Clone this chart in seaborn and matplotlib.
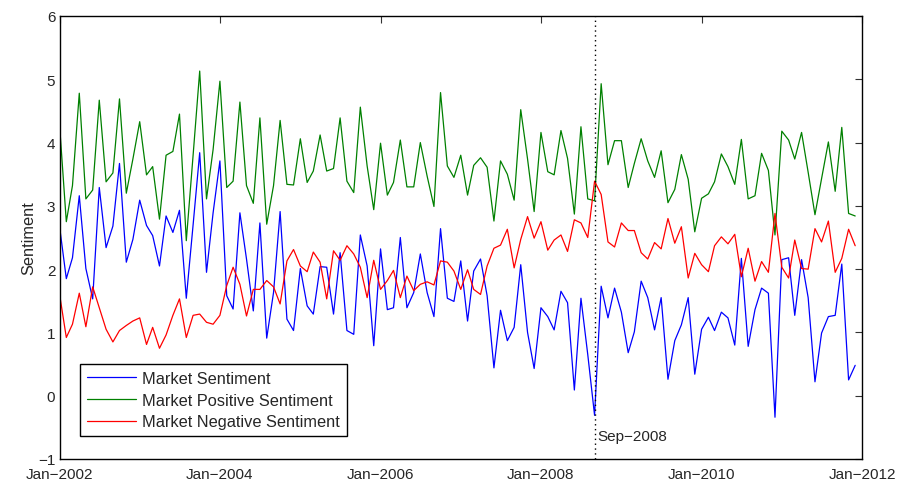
import numpy as np
import pandas as pd
import matplotlib
matplotlib.use("Agg")
import matplotlib.pyplot as plt
import seaborn as sns

# ---- data (monthly, Jan-2002 .. Dec-2011) ----
start_month = "2002-01-01"
n_months = 120

market_sentiment = [
    2.68, 1.85, 2.18, 3.16, 2.01, 1.53, 3.29, 2.34, 2.68, 3.67,
    2.11, 2.47, 3.09, 2.69, 2.53, 2.05, 2.84, 2.58, 2.93, 1.54,
    2.70, 3.84, 1.95, 2.89, 3.71, 1.58, 1.37, 2.89, 2.16, 1.34,
    2.73, 0.91, 1.63, 2.91, 1.21, 1.03, 2.01, 1.42, 1.29, 2.04,
    2.03, 1.29, 2.26, 1.03, 0.97, 2.54, 2.05, 0.79, 2.32, 1.36,
    1.39, 2.50, 1.39, 1.63, 2.24, 1.63, 1.25, 2.64, 1.54, 1.49,
    2.13, 1.18, 1.97, 2.16, 1.58, 0.44, 1.35, 0.87, 1.08, 2.07,
    1.00, 0.43, 1.39, 1.25, 1.04, 1.65, 1.47, 0.09, 1.54, 0.65,
    -0.31, 1.73, 1.23, 1.70, 1.32, 0.68, 1.01, 1.81, 1.55, 1.04,
    1.55, 0.26, 0.87, 1.12, 1.55, 0.34, 1.05, 1.24, 1.03, 1.32,
    1.23, 0.80, 2.17, 0.78, 1.36, 1.70, 1.62, -0.34, 2.15, 2.18,
    1.27, 2.15, 1.55, 0.22, 0.99, 1.25, 1.27, 2.08, 0.25, 0.48,
]

positive_sentiment = [
    4.29, 2.75, 3.32, 4.78, 3.11, 3.25, 4.67, 3.38, 3.52, 4.69,
    3.20, 3.74, 4.33, 3.49, 3.62, 2.79, 3.80, 3.86, 4.45, 2.45,
    3.80, 5.13, 3.11, 3.89, 4.97, 3.29, 3.39, 4.64, 3.32, 3.04,
    4.39, 2.71, 3.32, 4.35, 3.34, 3.33, 4.06, 3.37, 3.55, 4.12,
    3.55, 3.59, 4.39, 3.39, 3.21, 4.56, 3.63, 2.94, 3.99, 3.17,
    3.37, 4.04, 3.30, 3.30, 4.00, 3.47, 2.99, 4.79, 3.63, 3.45,
    3.80, 3.17, 3.64, 3.76, 3.61, 2.76, 3.71, 3.50, 3.09, 4.52,
    3.74, 2.91, 4.16, 3.54, 3.49, 4.19, 3.75, 2.87, 4.25, 3.11,
    3.08, 4.93, 3.65, 4.03, 4.03, 3.29, 3.67, 4.06, 3.71, 3.45,
    3.87, 3.05, 3.26, 3.81, 3.42, 2.59, 3.12, 3.19, 3.38, 3.82,
    3.62, 3.34, 4.05, 3.11, 3.16, 3.83, 3.56, 2.54, 4.18, 4.04,
    3.74, 4.16, 3.53, 2.86, 3.43, 4.01, 3.23, 4.24, 2.88, 2.84,
]

negative_sentiment = [
    1.61, 0.92, 1.13, 1.62, 1.09, 1.72, 1.39, 1.05, 0.85, 1.03,
    1.11, 1.18, 1.23, 0.81, 1.08, 0.75, 0.96, 1.27, 1.53, 0.92,
    1.27, 1.29, 1.16, 1.13, 1.27, 1.74, 2.03, 1.76, 1.26, 1.68,
    1.68, 1.82, 1.72, 1.45, 2.13, 2.31, 2.05, 1.96, 2.27, 2.11,
    1.53, 2.29, 2.14, 2.37, 2.24, 2.03, 1.55, 2.14, 1.68, 1.82,
    1.98, 1.55, 1.89, 1.66, 1.76, 1.80, 1.75, 2.13, 2.11, 1.97,
    1.68, 1.99, 1.68, 1.60, 2.05, 2.33, 2.38, 2.63, 2.02, 2.47,
    2.83, 2.49, 2.75, 2.30, 2.46, 2.54, 2.28, 2.78, 2.73, 2.50,
    3.39, 3.18, 2.43, 2.35, 2.73, 2.61, 2.61, 2.26, 2.16, 2.42,
    2.32, 2.80, 2.41, 2.67, 1.86, 2.25, 2.07, 1.96, 2.37, 2.51,
    2.40, 2.55, 1.88, 2.33, 1.81, 2.12, 1.95, 2.88, 2.03, 1.86,
    2.46, 2.01, 2.00, 2.64, 2.43, 2.76, 1.95, 2.17, 2.63, 2.37,
]

series_names = ["Market Sentiment", "Market Positive Sentiment", "Market Negative Sentiment"]
series_colors = ["#0000ff", "#008000", "#ff0000"]
xtick_dates = ["2002-01-01", "2004-01-01", "2006-01-01", "2008-01-01", "2010-01-01", "2012-01-01"]
xtick_labels = ["Jan\u22122002", "Jan\u22122004", "Jan\u22122006", "Jan\u22122008", "Jan\u22122010", "Jan\u22122012"]
yticks = [-1, 0, 1, 2, 3, 4, 5, 6]
event_date = "2008-09-01"
event_label = "Sep\u22122008"

# ---- build long table ----
dates = pd.date_range(start_month, periods=n_months, freq="MS")
df = pd.concat([
    pd.DataFrame({"date": dates, "value": market_sentiment, "series": series_names[0]}),
    pd.DataFrame({"date": dates, "value": positive_sentiment, "series": series_names[1]}),
    pd.DataFrame({"date": dates, "value": negative_sentiment, "series": series_names[2]}),
], ignore_index=True)

sns.set_style("white")
plt.rcParams["font.family"] = ["Liberation Sans", "DejaVu Sans"]
plt.rcParams["axes.unicode_minus"] = True

fig = plt.figure(figsize=(9.01, 4.81), dpi=100)
ax = fig.add_axes([59.5 / 901, 21 / 481, 802.5 / 901, 443 / 481])

sns.lineplot(data=df, x="date", y="value", hue="series", hue_order=series_names,
             palette=dict(zip(series_names, series_colors)), linewidth=0.9, ax=ax,
             legend=True)

ax.set_xlim(pd.Timestamp(xtick_dates[0]), pd.Timestamp(xtick_dates[-1]))
ax.set_ylim(-1, 6)
ax.set_xticks([pd.Timestamp(d) for d in xtick_dates])
ax.set_xticklabels(xtick_labels)
ax.set_yticks(yticks)
ax.set_xlabel("")
ax.set_ylabel("Sentiment", fontsize=11.8, labelpad=1)

ax.axvline(pd.Timestamp(event_date), color="black", linestyle=(0, (1, 2.5)), linewidth=1.0)
ax.annotate(event_label, xy=(pd.Timestamp(event_date), -0.63), xytext=(2, 0),
            textcoords="offset points", ha="left", va="center", fontsize=11)

for s in ax.spines.values():
    s.set_visible(True)
    s.set_color("black")
    s.set_linewidth(1.0)
ax.tick_params(direction="in", top=True, right=True, length=5, width=0.8,
               labelsize=11, color="#333333", pad=3)
ax.tick_params(axis="x", pad=6)

leg = ax.legend(loc="lower left", bbox_to_anchor=(0.0255, 0.052), borderaxespad=0,
                frameon=True, fancybox=False, fontsize=11.8, handlelength=3.0,
                handletextpad=0.4, labelspacing=0.42, borderpad=0.4)
leg.get_frame().set_edgecolor("black")
leg.get_frame().set_linewidth(1.0)
leg.get_frame().set_alpha(1)
for line in leg.get_lines():
    line.set_linewidth(0.9)

fig.savefig("out.png", dpi=100)
